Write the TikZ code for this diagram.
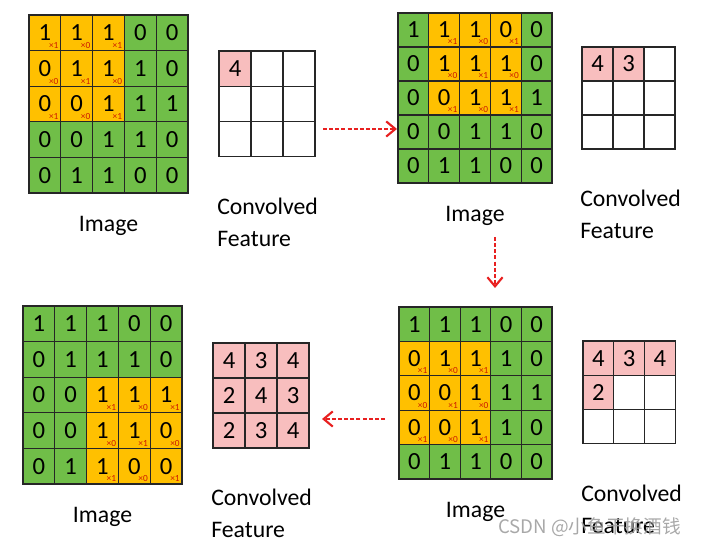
\documentclass[tikz,border=0pt]{standalone}
\usepackage{fontspec}
\setmainfont{Carlito}
\newfontfamily\cjk{Noto Sans CJK SC}
\usepackage{xcolor}
\usepackage{tikz}
\usetikzlibrary{arrows.meta,positioning}

\definecolor{cellgreen}{RGB}{112,190,72}
\definecolor{cellorange}{RGB}{255,192,0}
\definecolor{cellpink}{RGB}{248,190,190}
\definecolor{wtred}{RGB}{205,25,0}
\definecolor{arrred}{RGB}{232,32,32}

\begin{document}
\begin{tikzpicture}[
  x=0.75pt, y=-0.75pt,
  cell/.style={rectangle, draw=black!85, line width=0.9pt, inner sep=0pt,
               font=\fontsize{18.5}{20}\selectfont},
  wt/.style={inner sep=0pt, font=\fontsize{7}{8}\selectfont, text=wtred},
  lbl/.style={font=\fontsize{17.8}{24}\selectfont, inner sep=0pt, align=left},
  wmtext/.style={font=\cjk\fontsize{14}{16}\selectfont, text=gray!75,
                 opacity=0.9, inner sep=0pt},
  arr/.style={-{Straight Barb[length=2.4mm, width=4mm, line width=1.6pt]},
              line width=1.1pt, arrred, dash pattern=on 3pt off 1.6pt},
]
\useasboundingbox (0,0) rectangle (704,545);

% Image grids: kernel window starts at row \kr, column \kc
\foreach \p/\x/\y/\cw/\ch/\kr/\kc in {tl/29/15/31.8/35.6/1/1, tr/398/13/30.8/34/1/2,
                                      br/399/307/30.6/34.4/2/1, bl/23/306/31.8/35.6/3/3}{
  \foreach \row [count=\r] in {{1,1,1,0,0},{0,1,1,1,0},{0,0,1,1,1},{0,0,1,1,0},{0,1,1,0,0}}{
    \foreach \v [count=\c] in \row {
      \pgfmathtruncatemacro\i{\r-\kr}
      \pgfmathtruncatemacro\j{\c-\kc}
      \pgfmathtruncatemacro\inwin{(\i>=0)&&(\i<3)&&(\j>=0)&&(\j<3)}
      \ifnum\inwin=1
        \pgfmathtruncatemacro\k{1-mod(\i+\j,2)}
        \node[cell, fill=cellorange, minimum width=\cw*0.75pt, minimum height=\ch*0.75pt]
          (\p-\r-\c) at ({\x+(\c-0.5)*\cw},{\y+(\r-0.5)*\ch}) {\v};
        \node[wt, anchor=south east] (\p-\r-\c-w)
          at ([xshift=-2pt, yshift=1.8pt]\p-\r-\c.south east) {×\k};
      \else
        \node[cell, fill=cellgreen, minimum width=\cw*0.75pt, minimum height=\ch*0.75pt]
          (\p-\r-\c) at ({\x+(\c-0.5)*\cw},{\y+(\r-0.5)*\ch}) {\v};
      \fi
    }
  }
  \node[lbl, below=17pt of \p-5-3] (\p-img) {Image};
}

% Convolved features: first \n cells filled
\foreach \p/\x/\y/\cw/\ch/\n in {tlc/219/51/32/35.3/1, trc/582/47/31/34/2,
                                 brc/583/341/30.7/34.3/4, blc/213/343/32/35/9}{
  \foreach \v [count=\k] in {4,3,4,2,4,3,2,3,4}{
    \pgfmathtruncatemacro\r{div(\k-1,3)+1}
    \pgfmathtruncatemacro\c{mod(\k-1,3)+1}
    \ifnum\k>\n
      \node[cell, fill=white, minimum width=\cw*0.75pt, minimum height=\ch*0.75pt]
        (\p-\r-\c) at ({\x+(\c-0.5)*\cw},{\y+(\r-0.5)*\ch}) {};
    \else
      \node[cell, fill=cellpink, minimum width=\cw*0.75pt, minimum height=\ch*0.75pt]
        (\p-\r-\c) at ({\x+(\c-0.5)*\cw},{\y+(\r-0.5)*\ch}) {\v};
    \fi
  }
  \node[lbl, below right=30pt and -1pt of \p-3-1.south west] (\p-lbl) {Convolved\\Feature};
}

% Arrows
\coordinate (a1s) at (323,129);
\coordinate (a1e) at (397,129);
\coordinate (a2s) at (495,237);
\coordinate (a2e) at (495,288);
\coordinate (a3s) at (385,419);
\coordinate (a3e) at (322,419);
\draw[arr] (a1s) -- (a1e);
\draw[arr] (a2s) -- (a2e);
\draw[arr] (a3s) -- (a3e);

% Watermark
\node[wmtext, anchor=west] (wm) at (498,527) {CSDN @小鱼干换酒钱};

\end{tikzpicture}
\end{document}
